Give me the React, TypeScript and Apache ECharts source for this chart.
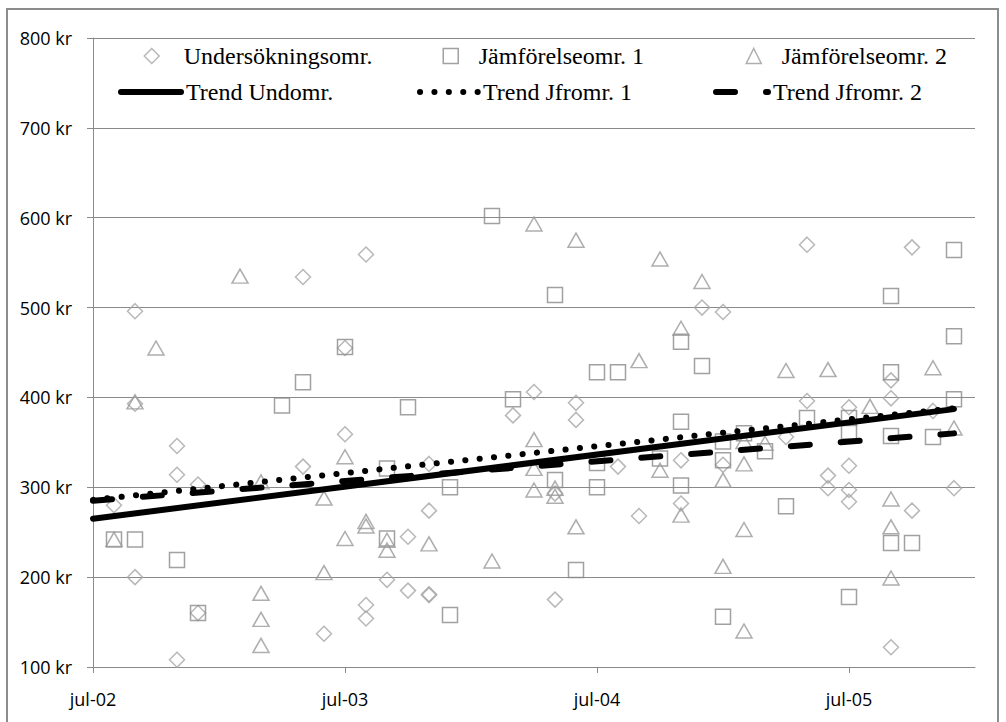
import { useEffect, useRef } from "react";
import * as echarts from "echarts";

// ---- axis settings / tick labels ----
const axisStart = "2002-07";
const axisEnd = "2006-01";
const xTickDates = ["2002-07", "2003-07", "2004-07", "2005-07"];
const xTickLabels = ["jul-02", "jul-03", "jul-04", "jul-05"];
const yMin = 100;
const yMax = 800;
const yStep = 100;
const yUnit = "kr";

// ---- series names ----
const seriesNames = [
  "Undersökningsomr.",
  "Jämförelseomr. 1",
  "Jämförelseomr. 2",
  "Trend Undomr.",
  "Trend Jfromr. 1",
  "Trend Jfromr. 2",
];

// ---- scatter values [month, kr] ----
const undersokning: [string, number][] = [
  ["2002-08", 280],
  ["2002-09", 496], ["2002-09", 393], ["2002-09", 200],
  ["2002-11", 346], ["2002-11", 314], ["2002-11", 108],
  ["2002-12", 303], ["2002-12", 160],
  ["2003-05", 534], ["2003-05", 323],
  ["2003-06", 137],
  ["2003-07", 455], ["2003-07", 359],
  ["2003-08", 559], ["2003-08", 169], ["2003-08", 154],
  ["2003-09", 197],
  ["2003-10", 245], ["2003-10", 185],
  ["2003-11", 326], ["2003-11", 274], ["2003-11", 181], ["2003-11", 180],
  ["2004-03", 380],
  ["2004-04", 406],
  ["2004-05", 293], ["2004-05", 175],
  ["2004-06", 394], ["2004-06", 375],
  ["2004-08", 323],
  ["2004-09", 268],
  ["2004-11", 330], ["2004-11", 282],
  ["2004-12", 500],
  ["2005-01", 495], ["2005-01", 325],
  ["2005-04", 356],
  ["2005-05", 570], ["2005-05", 396],
  ["2005-06", 313], ["2005-06", 299],
  ["2005-07", 389], ["2005-07", 324], ["2005-07", 297], ["2005-07", 284],
  ["2005-09", 419], ["2005-09", 399], ["2005-09", 122],
  ["2005-10", 567], ["2005-10", 274],
  ["2005-11", 385],
  ["2005-12", 299],
];

const jamforelse1: [string, number][] = [
  ["2002-08", 242],
  ["2002-09", 242],
  ["2002-11", 219],
  ["2002-12", 160],
  ["2003-04", 391],
  ["2003-05", 417],
  ["2003-07", 456],
  ["2003-09", 321], ["2003-09", 243],
  ["2003-10", 389],
  ["2003-12", 300], ["2003-12", 158],
  ["2004-02", 602],
  ["2004-03", 398],
  ["2004-05", 514], ["2004-05", 308],
  ["2004-06", 208],
  ["2004-07", 428], ["2004-07", 327], ["2004-07", 300],
  ["2004-08", 428],
  ["2004-10", 332],
  ["2004-11", 462], ["2004-11", 373], ["2004-11", 302],
  ["2004-12", 435],
  ["2005-01", 351], ["2005-01", 330], ["2005-01", 156],
  ["2005-02", 360],
  ["2005-03", 340],
  ["2005-04", 279],
  ["2005-05", 377],
  ["2005-07", 377], ["2005-07", 362], ["2005-07", 178],
  ["2005-09", 513], ["2005-09", 428], ["2005-09", 357], ["2005-09", 238],
  ["2005-10", 238],
  ["2005-11", 356],
  ["2005-12", 564], ["2005-12", 468], ["2005-12", 398],
];

const jamforelse2: [string, number][] = [
  ["2002-08", 242],
  ["2002-09", 395],
  ["2002-10", 455],
  ["2003-02", 535],
  ["2003-03", 306], ["2003-03", 182], ["2003-03", 153], ["2003-03", 124],
  ["2003-06", 288], ["2003-06", 205],
  ["2003-07", 334], ["2003-07", 243],
  ["2003-08", 262], ["2003-08", 257],
  ["2003-09", 241], ["2003-09", 230],
  ["2003-11", 237],
  ["2004-02", 218],
  ["2004-04", 593], ["2004-04", 353], ["2004-04", 321], ["2004-04", 297],
  ["2004-05", 299], ["2004-05", 290],
  ["2004-06", 575], ["2004-06", 256],
  ["2004-09", 441],
  ["2004-10", 554], ["2004-10", 319],
  ["2004-11", 477], ["2004-11", 269],
  ["2004-12", 529],
  ["2005-01", 308], ["2005-01", 212],
  ["2005-02", 351], ["2005-02", 326], ["2005-02", 253], ["2005-02", 140],
  ["2005-03", 349],
  ["2005-04", 430],
  ["2005-06", 431],
  ["2005-08", 390],
  ["2005-09", 287], ["2005-09", 256], ["2005-09", 199],
  ["2005-11", 433],
  ["2005-12", 366],
];

// ---- trend lines (end points) ----
const trendDates = ["2002-07", "2005-12"];
const trendUndomr = [265, 387];
const trendJfromr1 = [286, 388];
const trendJfromr2 = [285, 360];

function monthIndex(d: string): number {
  const [y, m] = d.split("-").map(Number);
  const [y0, m0] = axisStart.split("-").map(Number);
  return (y - y0) * 12 + (m - m0);
}

const toXY = (arr: [string, number][]) => arr.map(([d, v]) => [monthIndex(d), v]);
const trendXY = (vals: number[]) => trendDates.map((d, i) => [monthIndex(d), vals[i]]);

export default function App() {
  const ref = useRef<HTMLDivElement>(null);

  useEffect(() => {
    if (!ref.current) return;
    const chart = echarts.init(ref.current, undefined, { renderer: "svg" });

    const tickValues = xTickDates.map(monthIndex);
    const gridColor = "#8a8a8a";
    const axisFont = { fontFamily: "Open Sans", fontSize: 18, color: "#000" };
    const legendText = { fontFamily: "Liberation Serif, Times New Roman, serif", fontSize: 24, color: "#000" };

    const markerColors = ["#a6a6a6", "#8a8a8a", "#9a9a9a"];
    const markerSymbols = ["diamond", "rect", "triangle"];
    const markerSizes: number[][] = [[15, 15], [15, 15], [16, 14]];
    const scatterData = [undersokning, jamforelse1, jamforelse2];

    const scatterSeries = scatterData.map((arr, i) => ({
      name: seriesNames[i],
      type: "scatter",
      data: toXY(arr),
      symbol: markerSymbols[i],
      symbolSize: markerSizes[i],
      itemStyle: {
        color: "rgba(0,0,0,0)",
        borderColor: markerColors[i],
        borderWidth: 1.5,
      },
      z: 2,
    }));

    const trendStyles: any[] = [
      { type: "solid", width: 6, cap: "round" },
      { type: [0.1, 14.3], width: 6, cap: "round" },
      { type: [19, 31], width: 6, cap: "round" },
    ];
    const trendVals = [trendUndomr, trendJfromr1, trendJfromr2];
    const lineSeries = trendVals.map((vals, i) => ({
      name: seriesNames[3 + i],
      type: "line",
      data: trendXY(vals),
      symbol: "none",
      lineStyle: { color: "#000", ...trendStyles[i] },
      itemStyle: { color: "#000" },
      z: 3 + i,
    }));

    const legendPos = [
      { left: 143.5, top: 44, w: 15, pad: 19.5, icon: "diamond" },
      { left: 442.5, top: 44, w: 15, pad: 15.5, icon: "rect" },
      { left: 745.5, top: 44, w: 15, pad: 15.5, icon: "triangle" },
      { left: 118, top: 80, w: 60, pad: 0, icon: undefined },
      { left: 417, top: 80, w: 58, pad: 0, icon: undefined },
      { left: 713, top: 80, w: 52, pad: 0, icon: undefined },
    ];

    const legends = legendPos.map((p, i) => ({
      data: [p.icon ? { name: seriesNames[i], icon: p.icon } : { name: seriesNames[i] }],
      left: p.left,
      top: p.top,
      padding: 0,
      itemWidth: p.w,
      itemHeight: 15,
      selectedMode: false,
      itemStyle: p.icon
        ? { borderWidth: 1.5 }
        : { color: "rgba(0,0,0,0)", borderColor: "rgba(0,0,0,0)", borderWidth: 0 },
      lineStyle: { width: 6 },
      textStyle: { ...legendText, padding: [0, 0, 0, p.pad] },
    }));

    chart.setOption({
      animation: false,
      backgroundColor: "#fff",
      graphic: [
        {
          type: "rect",
          shape: { x: 7, y: 9, width: 991, height: 740 },
          style: { fill: "none", stroke: "#8c8c8c", lineWidth: 2 },
          silent: true,
        },
      ],
      grid: { left: 93, top: 38, right: 31, bottom: 55, containLabel: false },
      legend: legends,
      xAxis: {
        type: "value",
        min: monthIndex(axisStart),
        max: monthIndex(axisEnd),
        interval: 12,
        splitLine: { show: false },
        axisLine: { show: true, lineStyle: { color: gridColor, width: 1 } },
        axisTick: { show: true, length: 6, lineStyle: { color: gridColor }, customValues: tickValues },
        axisLabel: {
          ...axisFont,
          margin: 23,
          customValues: tickValues,
          formatter: (v: number) => {
            const k = tickValues.indexOf(v);
            return k >= 0 ? xTickLabels[k] : "";
          },
        },
      },
      yAxis: {
        type: "value",
        min: yMin,
        max: yMax,
        interval: yStep,
        axisLine: { show: true, lineStyle: { color: gridColor, width: 1 } },
        axisTick: { show: true, length: 6, lineStyle: { color: gridColor } },
        splitLine: { show: true, lineStyle: { color: gridColor, width: 1 } },
        axisLabel: {
          ...axisFont,
          margin: 21,
          formatter: (v: number) => `${v} ${yUnit}`,
        },
      },
      series: [...scatterSeries, ...lineSeries],
    });

    return () => chart.dispose();
  }, []);

  return (
    <div
      ref={ref}
      style={{ position: "fixed", left: 0, top: 0, width: 1006, height: 722 }}
    />
  );
}
